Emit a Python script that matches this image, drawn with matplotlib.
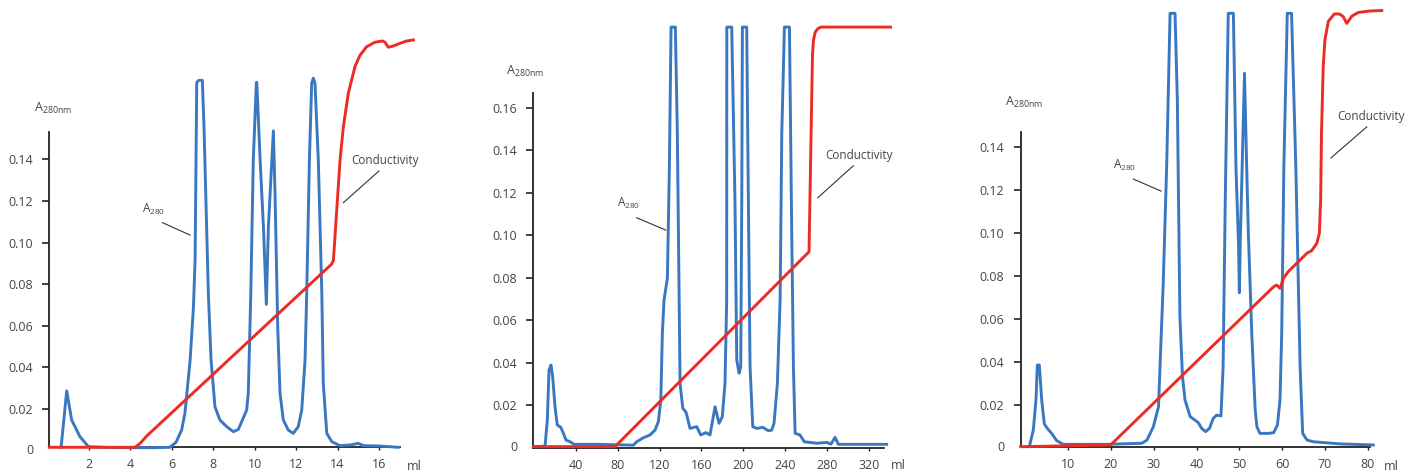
import matplotlib
matplotlib.use('Agg')
import matplotlib.pyplot as plt

plt.rcParams['font.family'] = ['Open Sans', 'DejaVu Sans']
plt.rcParams['mathtext.fontset'] = 'custom'
plt.rcParams['mathtext.rm'] = 'Open Sans'

BLUE = '#3a77c1'
RED = '#ec2b23'
TXT = '#444444'
FS = 9.0       # tick labels
FS_ANN = 8.5   # curve annotations

# ---- panel 1 : small column (ml 0-17) ----
p1_blue_x = [0.65, 0.92, 1.16, 1.56, 1.97, 3.0, 5.0, 5.9, 6.2, 6.47, 6.63, 6.88, 7.04, 7.12, 7.2, 7.3,
             7.47, 7.55, 7.76, 7.89, 8.08, 8.32, 8.65, 8.97, 9.21, 9.61, 9.69, 9.81, 9.93, 10.08, 10.1,
             10.26, 10.42, 10.56, 10.66, 10.9, 10.98, 11.11, 11.22, 11.38, 11.62, 11.86, 12.1, 12.27,
             12.43, 12.51, 12.64, 12.75, 12.83, 12.91, 13.07, 13.24, 13.31, 13.48, 13.72, 14.12, 14.6,
             15.0, 15.25, 16.05, 16.93]
p1_blue_y = [0.0016, 0.0287, 0.0147, 0.0067, 0.0019, 0.0015, 0.0014, 0.0016, 0.004, 0.0099, 0.018,
             0.0435, 0.069, 0.0916, 0.177, 0.178, 0.178, 0.1557, 0.0757, 0.0436, 0.0211, 0.0147, 0.0115,
             0.0091, 0.0102, 0.0195, 0.0277, 0.0757, 0.1397, 0.177, 0.177, 0.1397, 0.1077, 0.0703, 0.1077,
             0.1537, 0.1237, 0.0596, 0.0277, 0.0147, 0.0099, 0.0083, 0.0115, 0.0195, 0.0436, 0.0756,
             0.1397, 0.1766, 0.179, 0.1766, 0.1397, 0.0756, 0.0324, 0.0083, 0.0043, 0.0024, 0.0027,
             0.0035, 0.0024, 0.0022, 0.0016]
p1_red_x = [0.08, 4.22, 4.47, 4.78, 13.72, 13.8, 13.96, 14.12, 14.28, 14.52, 14.84, 15.08, 15.4, 15.8,
            16.17, 16.29, 16.45, 16.69, 17.02, 17.34, 17.66]
p1_red_y = [0.0016, 0.0016, 0.0035, 0.007, 0.0897, 0.0916, 0.1157, 0.1397, 0.1557, 0.1718, 0.1846,
            0.190, 0.1941, 0.1963, 0.1969, 0.1963, 0.1939, 0.1945, 0.1958, 0.1969, 0.1974]

# ---- panel 2 : large column (ml 0-340) ----
p2_blue_x = [1.2, 10.7, 12.9, 14.5, 16.4, 18.0, 20.2, 22.4, 25.7, 28.2, 30.7, 34.6, 38.4, 60, 95,
             98.2, 104.6, 110.9, 115.7, 118.9, 121.2, 122.7, 124.3, 127.5, 129.4, 131.0, 135.1, 137.0,
             139.6, 142.2, 145.3, 149.1, 155.5, 159.3, 164.3, 168.2, 173.0, 176.8, 179.9, 182.5, 184.1,
             184.2, 188.9, 192.0, 193.7, 195.9, 197.5, 198.5, 199.1, 203.2, 204.8, 206.4, 209.0, 212.8,
             218.5, 223.9, 227.1, 229.3, 232.5, 235.1, 236.7, 239.2, 244.0, 246.2, 247.8, 249.4, 254.1,
             258.2, 270.1, 279.6, 283.7, 287.5, 290.7, 336.8]
p2_blue_y = [0.0004, 0.0006, 0.013, 0.0365, 0.0388, 0.0333, 0.0192, 0.0106, 0.0095, 0.0067, 0.0035,
             0.0027, 0.0015, 0.0015, 0.0011, 0.0027, 0.0046, 0.0059, 0.0082, 0.0122, 0.0224, 0.0538,
             0.0695, 0.0797, 0.132, 0.198, 0.198, 0.148, 0.0302, 0.0185, 0.0166, 0.009, 0.0098, 0.0059,
             0.007, 0.0059, 0.0192, 0.0114, 0.0145, 0.0302, 0.0695, 0.198, 0.198, 0.1166, 0.0412, 0.035,
             0.038, 0.1166, 0.198, 0.198, 0.1166, 0.038, 0.0098, 0.009, 0.0095, 0.0079, 0.0082, 0.0114,
             0.0302, 0.0695, 0.148, 0.198, 0.198, 0.1009, 0.038, 0.0067, 0.0059, 0.0027, 0.002, 0.0024,
             0.0016, 0.0048, 0.0015, 0.0015]
p2_red_x = [-0.5, 77.5, 262.7, 266.0, 267.0, 268.5, 271.0, 274.0, 340.5]
p2_red_y = [0.0004, 0.0004, 0.0922, 0.185, 0.192, 0.1955, 0.1972, 0.198, 0.198]

# ---- panel 3 : medium column (ml 0-80) ----
p3_blue_x = [0.9, 1.83, 2.45, 2.77, 3.23, 3.79, 4.4, 5.1, 6.12, 7.3, 8.84, 18.98, 27.2, 28.4, 29.9,
             31.1, 31.6, 32.2, 33.0, 33.8, 34.96, 35.5, 36.1, 36.7, 37.3, 38.5, 40.4, 41.2, 42.1, 43.0,
             43.9, 44.7, 45.7, 46.2, 46.7, 47.4, 48.6, 49.2, 49.8, 50.0, 50.2, 51.2, 51.6, 52.1, 52.9,
             53.7, 54.1, 54.8, 56.8, 58.0, 58.9, 59.5, 59.9, 60.4, 61.2, 62.2, 63.2, 64.2, 64.8, 65.8,
             67.3, 73.6, 81.3]
p3_blue_y = [0.0006, 0.0084, 0.0223, 0.0386, 0.0386, 0.0223, 0.0112, 0.0091, 0.0068, 0.0034, 0.0017,
             0.0017, 0.0022, 0.0037, 0.0099, 0.0192, 0.0456, 0.0766, 0.1308, 0.2022, 0.2022, 0.1619,
             0.0611, 0.0332, 0.0223, 0.0146, 0.0118, 0.0091, 0.0076, 0.0091, 0.0138, 0.0153, 0.0149,
             0.0378, 0.1153, 0.2022, 0.2022, 0.1308, 0.095, 0.0722, 0.095, 0.1743, 0.14, 0.0999, 0.0533,
             0.0177, 0.0099, 0.0068, 0.0068, 0.0071, 0.0107, 0.0223, 0.0533, 0.1308, 0.2022, 0.2022,
             0.1308, 0.0378, 0.0068, 0.0037, 0.0029, 0.0019, 0.0014]
p3_red_x = [-1.12, 19.9, 58.0, 58.7, 59.5, 60.3, 61.4, 65.8, 66.9, 68.1, 68.7, 69.0, 69.2, 69.6, 70.0,
            70.8, 72.2, 73.4, 74.3, 75.1, 76.3, 77.8, 80.6, 83.3]
p3_red_y = [0.0006, 0.0014, 0.075, 0.0758, 0.0743, 0.0789, 0.082, 0.0906, 0.0918, 0.0952, 0.0999,
            0.1153, 0.1464, 0.1774, 0.1898, 0.1985, 0.2019, 0.2019, 0.2006, 0.1975, 0.2009, 0.2026,
            0.2033, 0.2035]

panels = [
    dict(rect=(49.3, 23.7, 371.1, 442.3), xlim=(0.08, 18.0), ylim=(0.0016, 0.2142),
         xspine=(0.08, 17.0), yspine=(0.0016, 0.153),
         xticks=list(range(2, 17, 2)), yticks=[0.02, 0.04, 0.06, 0.08, 0.10, 0.12, 0.14],
         blue=(p1_blue_x, p1_blue_y), red=(p1_red_x, p1_red_y),
         ylab=(-0.68, 0.163), ml=(17.7, -0.0074),
         a280=(4.57, 0.1144), a280_line=((5.54, 0.1096), (6.88, 0.1036)),
         cond=(14.64, 0.1378), cond_line=((16.0, 0.1344), (14.28, 0.1192))),
    dict(rect=(533.3, 23.5, 358.8, 442.5), xlim=(-0.5, 342.0), ylim=(0.0, 0.2084),
         xspine=(-0.5, 334.0), yspine=(0.0, 0.1668),
         xticks=list(range(40, 321, 40)), yticks=[0.02, 0.04, 0.06, 0.08, 0.10, 0.12, 0.14, 0.16],
         blue=(p2_blue_x, p2_blue_y), red=(p2_red_x, p2_red_y),
         ylab=(-26.5, 0.1754), ml=(347.5, -0.0087),
         a280=(79.4, 0.1131), a280_line=((98.2, 0.1082), (125.9, 0.1024)),
         cond=(278.0, 0.1359), cond_line=((305.0, 0.1327), (271.0, 0.1176))),
    dict(rect=(1020.7, 24.3, 364.1, 443.7), xlim=(-1.12, 84.0), ylim=(0.0006, 0.2070),
         xspine=(-1.12, 80.6), yspine=(0.0006, 0.147),
         xticks=list(range(10, 81, 10)), yticks=[0.02, 0.04, 0.06, 0.08, 0.10, 0.12, 0.14],
         blue=(p3_blue_x, p3_blue_y), red=(p3_red_x, p3_red_y),
         ylab=(-4.7, 0.159), ml=(85.5, -0.0084),
         a280=(20.46, 0.1298), a280_line=((25.2, 0.1251), (31.7, 0.1195)),
         cond=(72.8, 0.1526), cond_line=((79.8, 0.1494), (71.4, 0.1349))),
]

W, H = 1407, 471
fig = plt.figure(figsize=(W / 100, H / 100), dpi=100)

for p in panels:
    l, b, w, h = p['rect']
    ax = fig.add_axes([l / W, b / H, w / W, h / H])
    ax.patch.set_alpha(0)

    ax.plot(*p['blue'], color=BLUE, lw=2.1, solid_joinstyle='round', clip_on=False, zorder=3)
    ax.plot(*p['red'], color=RED, lw=2.1, solid_joinstyle='round', clip_on=False, zorder=4)

    ax.set_xlim(*p['xlim'])
    ax.set_ylim(*p['ylim'])
    for s in ['top', 'right']:
        ax.spines[s].set_visible(False)
    ax.spines['left'].set_bounds(*p['yspine'])
    ax.spines['bottom'].set_bounds(*p['xspine'])
    for s in ['left', 'bottom']:
        ax.spines[s].set_linewidth(1.3)
        ax.spines[s].set_color('#222222')

    ax.set_xticks(p['xticks'])
    ax.set_xticklabels([str(t) for t in p['xticks']])
    ax.set_yticks(p['yticks'])
    ax.set_yticklabels(['%.2f' % t for t in p['yticks']])
    ax.tick_params(axis='y', length=4.8, width=1.2, pad=7.0, color='#222222',
                   labelsize=FS, labelcolor=TXT)
    ax.tick_params(axis='x', length=2.5, width=1.0, pad=5.5, color='#222222',
                   labelsize=FS, labelcolor=TXT)

    # zero label on the y axis
    ax.annotate('0', xy=(0, 0), xycoords=('axes fraction', 'data'), xytext=(-11.5, 0),
                textcoords='offset points', ha='right', va='center', fontsize=FS,
                color=TXT, annotation_clip=False)

    ax.text(p['ml'][0], p['ml'][1], 'ml', ha='center', va='center', fontsize=FS,
            color=TXT, clip_on=False)
    ax.text(p['ylab'][0], p['ylab'][1], r'A$_{\mathregular{280nm}}$', ha='left',
            va='baseline', fontsize=FS, color=TXT, clip_on=False)

    ax.text(p['a280'][0], p['a280'][1], r'A$_{\mathregular{280}}$', ha='left', va='baseline',
            fontsize=FS_ANN, color=TXT)
    (x0, y0), (x1, y1) = p['a280_line']
    ax.plot([x0, x1], [y0, y1], color='#333333', lw=0.8)
    ax.text(p['cond'][0], p['cond'][1], 'Conductivity', ha='left', va='baseline',
            fontsize=FS_ANN, color=TXT, clip_on=False)
    (x0, y0), (x1, y1) = p['cond_line']
    ax.plot([x0, x1], [y0, y1], color='#333333', lw=0.8, clip_on=False)

fig.savefig('out.png', dpi=100)
